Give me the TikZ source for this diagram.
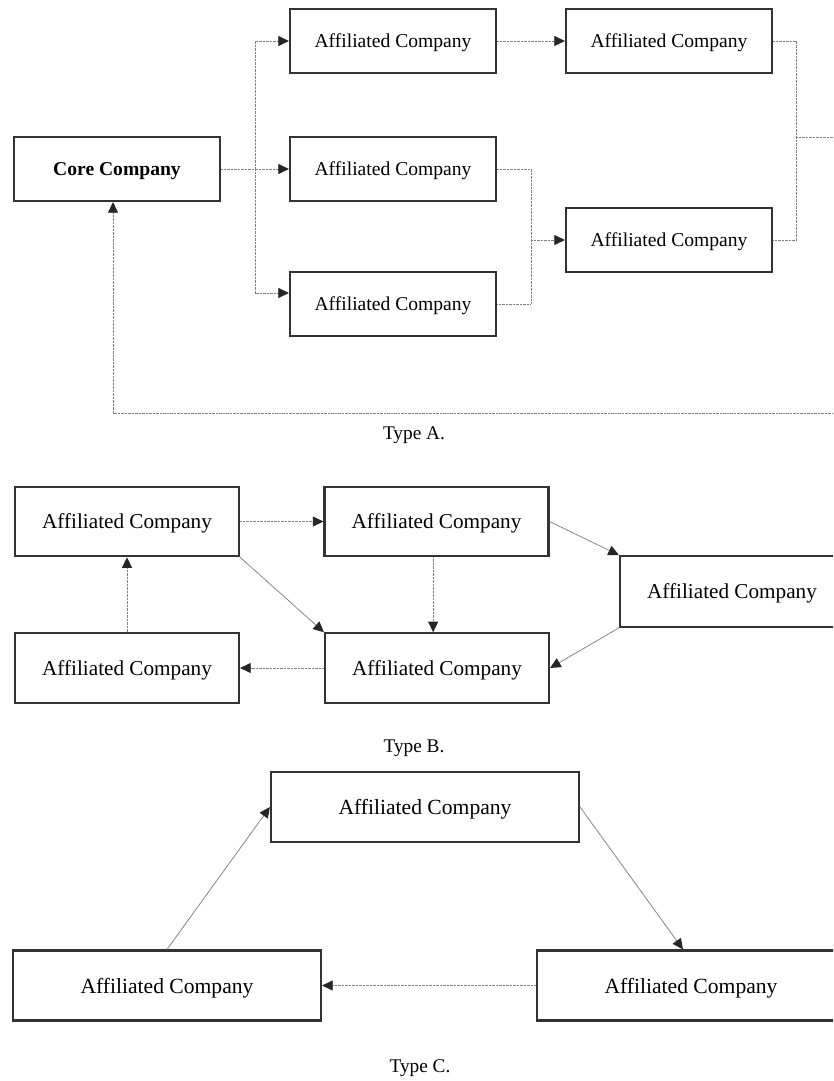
\documentclass[tikz,border=0pt]{standalone}
\usepackage{fontspec}
\setmainfont{Liberation Serif}
\usetikzlibrary{arrows.meta}
\begin{document}
\begin{tikzpicture}[x=0.75pt,y=-0.75pt,
  boxbase/.style={draw=black!80, line width=1.6pt, inner sep=0pt, text depth=0pt, fill=white},
  boxA/.style={boxbase, minimum width=154.5pt, minimum height=48pt, font=\fontsize{14.7}{17}\selectfont},
  boxB/.style={boxbase, minimum width=168pt, minimum height=52pt, font=\fontsize{15.9}{18}\selectfont},
  boxC/.style={boxbase, minimum width=231pt, minimum height=52.5pt, font=\fontsize{16.2}{19}\selectfont},
  conn/.style={draw=black!50, line width=0.7pt, dash pattern=on 0.7pt off 0.35pt},
  arr/.style={conn, -{Triangle[length=8pt,width=7.5pt,color=black!85]}},
  caption/.style={font=\fontsize{14.5}{17}\selectfont, inner sep=0pt}
]
\useasboundingbox (0,0) rectangle (833,1081);
\clip (0,0) rectangle (833,1081);

% ---------- Type A ----------
\node[boxA, font=\fontsize{14.7}{17}\selectfont\bfseries] (core) at (117,169) {Core Company};
\node[boxA] (a1) at (393,41) {Affiliated Company};
\node[boxA] (a2) at (393,169) {Affiliated Company};
\node[boxA] (a3) at (393,304) {Affiliated Company};
\node[boxA] (a4) at (669,41) {Affiliated Company};
\node[boxA] (a5) at (669,240) {Affiliated Company};

\coordinate (bA) at (255,169);
\coordinate (jB) at (531,304);
\coordinate (jC) at (796,240);
\coordinate (out) at (796,137);
\coordinate (farR) at (850,137);
\coordinate (farB) at (850,413);

\draw[arr] (core.east) -- (a2.west);
\draw[arr] (bA) |- (a1.west);
\draw[arr] (bA) |- ([yshift=8.25pt]a3.west);
\draw[arr] (a1.east) -- (a4.west);
\draw[conn] (a2.east) -| (jB) -- (a3.east);
\draw[arr] (jB |- a5.west) -- (a5.west);
\draw[conn] (a4.east) -| (jC) -- (a5.east);
\draw[arr] (out) -- (farR) -- (farB) -| ([xshift=-3pt]core.south);

\node[caption] (capA) at (414,435) {Type A.};

% ---------- Type B ----------
\node[boxB] (b1) at (127,521.5) {Affiliated Company};
\node[boxB] (b2) at (436.5,521.5) {Affiliated Company};
\node[boxB, minimum height=53pt] (b3) at (732,591.5) {Affiliated Company};
\node[boxB] (b4) at (127,668) {Affiliated Company};
\node[boxB] (b5) at (437,668) {Affiliated Company};

\draw[arr] (b1.east) -- (b2.west);
\draw[arr] ([xshift=-2.5pt]b2.south) -- ([xshift=-2.5pt]b2.south |- b5.north);
\draw[arr] (b1.south east) -- (b5.north west);
\draw[arr] (b2.east) -- (b3.north west);
\draw[arr] (b3.south west) -- (b5.east);
\draw[arr] (b5.west) -- (b4.east);
\draw[arr] (b4.north) -- (b1.south);

\node[caption] (capB) at (414,748) {Type B.};

% ---------- Type C ----------
\node[boxC] (c1) at (425,807) {Affiliated Company};
\node[boxC] (c2) at (167,985.5) {Affiliated Company};
\node[boxC] (c3) at (691,985.5) {Affiliated Company};

\draw[arr] (c2.north) -- (c1.west);
\draw[arr] (c1.east) -- ([xshift=-6pt]c3.north);
\draw[arr] (c3.west) -- (c2.east);

\node[caption] (capC) at (420,1068) {Type C.};
\end{tikzpicture}
\end{document}
